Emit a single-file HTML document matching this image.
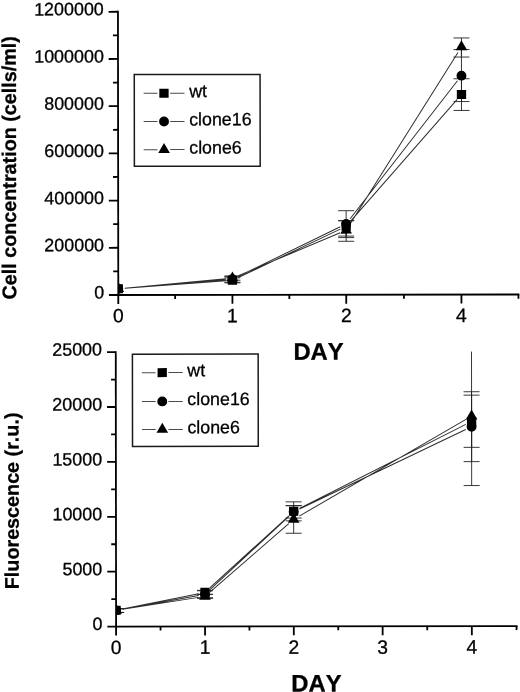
<!DOCTYPE html>
<html><head><meta charset="utf-8"><title>Growth and fluorescence</title>
<style>html,body{margin:0;padding:0;background:#fff}svg{display:block;font-kerning:none}</style></head>
<body>
<svg width="520" height="692" viewBox="0 0 520 692" font-family="'Liberation Sans', Arial, sans-serif" fill="#000" stroke="none">
<style>text{stroke:#000;stroke-width:0.3px;stroke-linejoin:round}</style>
<rect width="520" height="692" fill="#fff"/>
<g transform="rotate(-0.07 260 346)">
<path d="M118.35 10.7 V303.8" stroke="#000" stroke-width="1.8" fill="none"/>
<path d="M109 294.8 H519.4" stroke="#000" stroke-width="1.8" fill="none"/>
<path d="M113.3 271.20H118.35M109 247.60H118.35M113.3 224.00H118.35M109 200.40H118.35M113.3 176.80H118.35M109 153.20H118.35M113.3 129.60H118.35M109 106.00H118.35M113.3 82.40H118.35M109 58.80H118.35M113.3 35.20H118.35M109 11.60H118.35" stroke="#000" stroke-width="1.8" fill="none"/>
<path d="M232.5 294.8V303.8M346.3 294.8V303.8M461.5 294.8V303.8M175.2 294.8V299M289.4 294.8V299M404 294.8V299M518.5 294.8V299" stroke="#000" stroke-width="1.8" fill="none"/>
<g font-size="17.9" text-anchor="end">
<text x="104.2" y="298.30">0</text>
<text x="104.2" y="251.10">200000</text>
<text x="104.2" y="203.90">400000</text>
<text x="104.2" y="156.70">600000</text>
<text x="104.2" y="109.50">800000</text>
<text x="104.2" y="62.30">1000000</text>
<text x="104.2" y="15.10">1200000</text>
</g>
<g font-size="19.3" text-anchor="middle">
<text x="118.35" y="322.2">0</text>
<text x="232.5" y="322.2">1</text>
<text x="346.3" y="322.2">2</text>
<text x="461.5" y="322.2">4</text>
</g>
<text transform="translate(16.2 167.5) rotate(-90)" font-size="19.75" font-weight="bold" text-anchor="middle">Cell concentration (cells/ml)</text>
<text x="318.5" y="359.7" font-size="23.8" font-weight="bold" text-anchor="middle">DAY</text>
<clipPath id="c1"><rect x="118.35" y="11.6" width="405.15" height="283.2"/></clipPath>
<g clip-path="url(#c1)">
<path d="M232.5 277.80V282.80M224.5 277.80H240.5M224.5 282.80H240.5M346.3 220.80V236.20M338.3 220.80H354.3M338.3 236.20H354.3M461.8 79.00V110.70M453.8 79.00H469.8M453.8 110.70H469.8M232.5 276.30V282.30M224.5 276.30H240.5M224.5 282.30H240.5M346.3 210.80V237.70M338.3 210.80H354.3M338.3 237.70H354.3M461.8 49.80V101.80M453.8 49.80H469.8M453.8 101.80H469.8M232.5 276.00V280.20M224.5 276.00H240.5M224.5 280.20H240.5M346.3 220.80V241.40M338.3 220.80H354.3M338.3 241.40H354.3M461.8 38.20V57.30M453.8 38.20H469.8M453.8 57.30H469.8" stroke="#222" stroke-width="0.9" fill="none"/>
<path d="M124.83 288.13L226.02 280.77M238.37 277.52L340.43 229.18M350.59 221.51L457.51 99.69M124.83 288.07L226.02 279.73M238.35 276.36L340.45 226.84M350.30 218.87L457.80 81.03M124.82 288.00L226.03 278.70M238.49 275.59L340.31 232.91M349.77 224.90L458.33 52.70" stroke="#2e2e2e" stroke-width="1" fill="none"/>
<rect x="113.70" y="284.10" width="9.3" height="9"/>
<rect x="227.85" y="275.80" width="9.3" height="9"/>
<rect x="341.65" y="221.90" width="9.3" height="9"/>
<rect x="457.15" y="90.30" width="9.3" height="9"/>
<circle cx="118.35" cy="288.60" r="4.95"/>
<circle cx="232.50" cy="279.20" r="4.95"/>
<circle cx="346.30" cy="224.00" r="4.95"/>
<circle cx="461.80" cy="75.90" r="4.95"/>
<path d="M118.35 281.93L124.15 291.93H112.55Z"/>
<path d="M232.50 271.43L238.30 281.43H226.70Z"/>
<path d="M346.30 223.73L352.10 233.73H340.50Z"/>
<path d="M461.80 40.53L467.60 50.53H456.00Z"/>
</g>
<rect x="134.6" y="74.4" width="125.79999999999998" height="91.79999999999998" fill="#fff" stroke="#1a1a1a" stroke-width="1.5"/>
<g font-size="17.8">
<path d="M143.95 93.15H157.70M170.45 93.15H184.80" stroke="#4a4a4a" stroke-width="1"/>
<rect x="159.65" y="88.65" width="9.3" height="9"/>
<text x="189.5" y="97.05000000000001">wt</text>
<path d="M143.95 121.4H157.70M170.45 121.4H184.80" stroke="#4a4a4a" stroke-width="1"/>
<circle cx="164.30" cy="121.40" r="4.95"/>
<text x="189.5" y="125.30000000000001">clone16</text>
<path d="M143.95 149.5H157.70M170.45 149.5H184.80" stroke="#4a4a4a" stroke-width="1"/>
<path d="M164.30 142.83L170.10 152.83H158.50Z"/>
<text x="189.5" y="153.4">clone6</text>
</g>
<path d="M115.75 351.0 V635.4" stroke="#000" stroke-width="1.8" fill="none"/>
<path d="M107.0 626.4 H517.1999999999999" stroke="#000" stroke-width="1.8" fill="none"/>
<path d="M111 598.95H115.75M107.0 571.50H115.75M111 544.05H115.75M107.0 516.60H115.75M111 489.15H115.75M107.0 461.70H115.75M111 434.25H115.75M107.0 406.80H115.75M111 379.35H115.75M107.0 351.90H115.75" stroke="#000" stroke-width="1.8" fill="none"/>
<path d="M204.7 626.4V635.4M293.45 626.4V635.4M382.3 626.4V635.4M471.5 626.4V635.4M160.2 626.4V630.4M249.1 626.4V630.4M337.9 626.4V630.4M426.9 626.4V630.4M516.2 626.4V630.4" stroke="#000" stroke-width="1.8" fill="none"/>
<g font-size="17.9" text-anchor="end">
<text x="102" y="629.90">0</text>
<text x="102" y="575.00">5000</text>
<text x="102" y="520.10">10000</text>
<text x="102" y="465.20">15000</text>
<text x="102" y="410.30">20000</text>
<text x="102" y="355.40">25000</text>
</g>
<g font-size="19.3" text-anchor="middle">
<text x="115.75" y="653.8">0</text>
<text x="204.7" y="653.8">1</text>
<text x="293.45" y="653.8">2</text>
<text x="382.3" y="653.8">3</text>
<text x="471.5" y="653.8">4</text>
</g>
<text transform="translate(18.5 500.6) rotate(-90)" font-size="19.75" font-weight="bold" text-anchor="middle">Fluorescence (r.u.)</text>
<text x="316" y="691.6" font-size="23.8" font-weight="bold" text-anchor="middle">DAY</text>
<clipPath id="c2"><rect x="115.75" y="351.9" width="405.54999999999995" height="274.5"/></clipPath>
<g clip-path="url(#c2)">
<path d="M115.75 608.50V612.30M107.75 608.50H123.75M107.75 612.30H123.75M204.7 590.30V594.30M196.7 590.30H212.7M196.7 594.30H212.7M293.45 501.90V520.90M285.45 501.90H301.45M285.45 520.90H301.45M471.5 395.40V447.60M463.5 395.40H479.5M463.5 447.60H479.5M115.75 608.50V612.30M107.75 608.50H123.75M107.75 612.30H123.75M204.7 590.70V597.70M196.7 590.70H212.7M196.7 597.70H212.7M293.45 505.70V518.10M285.45 505.70H301.45M285.45 518.10H301.45M471.5 392.00V461.90M463.5 392.00H479.5M463.5 461.90H479.5M115.75 608.50V612.30M107.75 608.50H123.75M107.75 612.30H123.75M204.7 594.30V598.30M196.7 594.30H212.7M196.7 598.30H212.7M293.45 505.70V533.30M285.45 505.70H301.45M285.45 533.30H301.45M471.5 340.00V485.80M463.5 340.00H479.5M463.5 485.80H479.5" stroke="#222" stroke-width="0.9" fill="none"/>
<path d="M122.12 608.92L198.33 593.58M209.50 587.92L288.65 515.78M299.25 508.48L465.70 424.62M122.15 609.05L198.30 595.35M209.47 589.78L288.68 516.32M299.32 509.10L465.63 429.80M122.17 609.20L198.28 597.30M209.61 592.04L288.54 523.66M299.08 516.15L465.87 419.65" stroke="#2e2e2e" stroke-width="1" fill="none"/>
<rect x="111.10" y="605.70" width="9.3" height="9"/>
<rect x="200.05" y="587.80" width="9.3" height="9"/>
<rect x="288.80" y="506.90" width="9.3" height="9"/>
<rect x="466.85" y="417.20" width="9.3" height="9"/>
<circle cx="115.75" cy="610.20" r="4.95"/>
<circle cx="204.70" cy="594.20" r="4.95"/>
<circle cx="293.45" cy="511.90" r="4.95"/>
<circle cx="471.50" cy="427.00" r="4.95"/>
<path d="M115.75 603.53L121.55 613.53H109.95Z"/>
<path d="M204.70 589.63L210.50 599.63H198.90Z"/>
<path d="M293.45 512.73L299.25 522.73H287.65Z"/>
<path d="M471.50 409.73L477.30 419.73H465.70Z"/>
</g>
<rect x="132.4" y="354.1" width="125.74999999999997" height="92.14999999999998" fill="#fff" stroke="#1a1a1a" stroke-width="1.5"/>
<g font-size="17.8">
<path d="M141.85 372.5H155.60M168.35 372.5H182.70" stroke="#4a4a4a" stroke-width="1"/>
<rect x="157.55" y="368.00" width="9.3" height="9"/>
<text x="187.3" y="376.2">wt</text>
<path d="M141.85 401.3H155.60M168.35 401.3H182.70" stroke="#4a4a4a" stroke-width="1"/>
<circle cx="162.20" cy="401.30" r="4.95"/>
<text x="187.3" y="405.0">clone16</text>
<path d="M141.85 429.4H155.60M168.35 429.4H182.70" stroke="#4a4a4a" stroke-width="1"/>
<path d="M162.20 422.73L168.00 432.73H156.40Z"/>
<text x="187.3" y="433.09999999999997">clone6</text>
</g>
</g>
</svg>
</body></html>
